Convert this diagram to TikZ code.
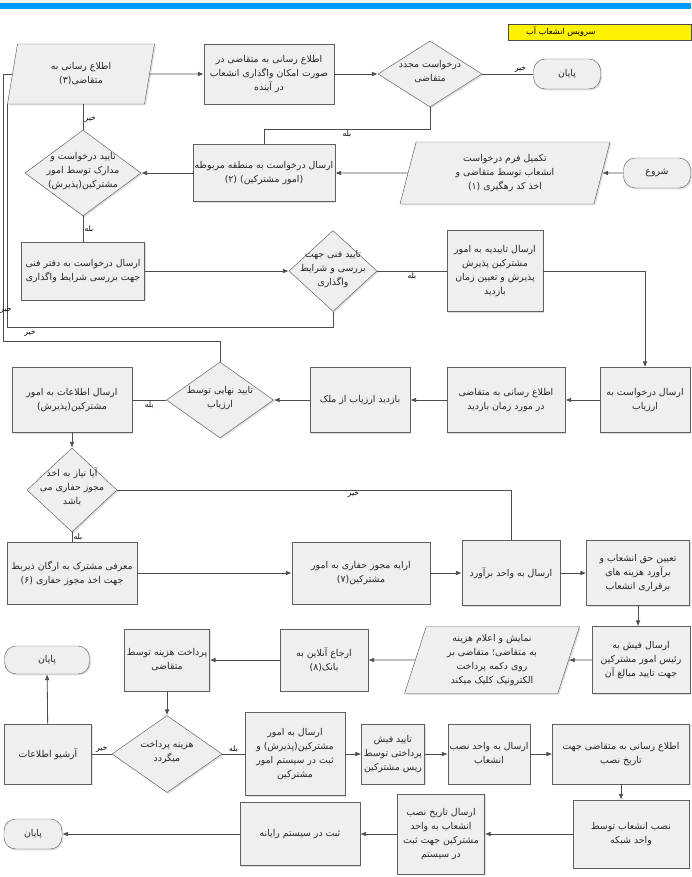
\documentclass[tikz,border=0pt]{standalone}
\usepackage{fontspec}
\newfontfamily\arabicfont[Script=Arabic]{DejaVu Sans}
\TeXXeTstate=1
\usetikzlibrary{shapes.geometric,arrows.meta,shadows}
\definecolor{barblue}{HTML}{0099FF}
\definecolor{boxfill}{HTML}{EFEFEF}
\newcommand\fa[1]{\beginR#1\endR}
\newcommand\dtxt[1]{\smash{\makebox[0pt]{\begin{tabular}{@{}c@{}}#1\end{tabular}}}}
\tikzset{
  wh/.style 2 args={minimum width=#1*0.03cm,minimum height=#2*0.03cm},
  base/.style={draw=gray!75!black,fill=boxfill,drop shadow={opacity=.25,shadow xshift=1.2pt,shadow yshift=-1.2pt},
    font=\arabicfont\fontsize{8}{12}\selectfont,text=black!85,align=center,inner sep=1pt},
  proc/.style={base,rectangle},
  io/.style={base,trapezium,trapezium left angle=68,trapezium right angle=112,trapezium stretches body},
  decide/.style={base,diamond,inner sep=0pt},
  term/.style={base,rectangle,rounded corners=10pt},
  line/.style={draw=gray!60!black,line width=.7pt},
  arr/.style={line,-{Latex[length=5pt,width=4pt]}},
  lbl/.style={font=\arabicfont\fontsize{6.5}{8}\selectfont,inner sep=1pt}
}
\begin{document}
\begin{tikzpicture}[x=0.03cm,y=-0.03cm]
\useasboundingbox (0,0) rectangle (691,877);
\fill[gray!6] (0,0) rectangle (691,3);
\fill[barblue] (0,3) rectangle (691,9);
\node[draw=black!70,fill=yellow,wh={183}{16},inner sep=0pt,font=\arabicfont\fontsize{7}{8}\selectfont] (title) at (599.5,32)
  {\makebox[5.4cm][l]{\hspace{0.5cm}\fa{سرویس انشعاب آب}}};
% row 1
\node[io,wh={147}{60}] (P3) at (81,74) {\fa{اطلاع رسانی به}\\\fa{متقاضی(۳)}};
\node[proc,wh={130}{60}] (R1) at (269,74) {\fa{اطلاع رسانی به متقاضی در}\\\fa{صورت امکان واگذاری انشعاب}\\\fa{در آینده}};
\node[decide,wh={104}{66}] (D1) at (430,74) {\dtxt{\fa{درخواست مجدد}\\\fa{متقاضی}}};
\node[term,wh={67}{30}] (E1) at (567,74) {\fa{پایان}};
% row 2
\node[term,wh={67}{30}] (S) at (657,173) {\fa{شروع}};
\node[io,wh={210}{62}] (P1) at (505,173) {\fa{تکمیل فرم درخواست}\\\fa{انشعاب توسط متقاضی و}\\\fa{اخذ کد رهگیری (۱)}};
\node[proc,wh={142}{57}] (R2) at (264,173) {\fa{ارسال درخواست به منطقه مربوطه}\\\fa{(امور مشترکین) (۲)}};
\node[decide,wh={116}{86}] (D2) at (83,173) {\dtxt{\fa{تایید درخواست و}\\\fa{مدارک توسط امور}\\\fa{مشترکین(پذیرش)}}};
% row 3
\node[proc,wh={123}{58}] (R3) at (83,271) {\fa{ارسال درخواست به دفتر فنی}\\\fa{جهت بررسی شرایط واگذاری}};
\node[decide,wh={88}{81}] (D3) at (333,271) {\dtxt{\fa{تایید فنی جهت}\\\fa{بررسی و شرایط}\\\fa{واگذاری}}};
\node[proc,wh={96}{81}] (R4) at (495,271) {\fa{ارسال تاییدیه به امور}\\\fa{مشترکین پذیرش}\\\fa{پذیرش و تعیین زمان}\\\fa{بازدید}};
% row 4
\node[proc,wh={90}{65}] (R5) at (645,400) {\fa{ارسال درخواست به}\\\fa{ارزیاب}};
\node[proc,wh={118}{65}] (R6) at (506,400) {\fa{اطلاع رسانی به متقاضی}\\\fa{در مورد زمان بازدید}};
\node[proc,wh={100}{65}] (R7) at (360,400) {\fa{بازدید ارزیاب از ملک}};
\node[decide,wh={107}{76}] (D4) at (220,400) {\dtxt{\fa{تایید نهایی توسط}\\\fa{ارزیاب}}};
\node[proc,wh={120}{65}] (R8) at (72,400) {\fa{ارسال اطلاعات به امور}\\\fa{مشترکین(پذیرش)}};
\node[decide,wh={90}{84}] (D5) at (72,490) {\dtxt{\fa{آیا نیاز به اخذ}\\\fa{مجوز حفاری می}\\\fa{باشد}}};
% row 5
\node[proc,wh={130}{62}] (R9) at (72,573) {\fa{معرفی مشترک به ارگان ذیربط}\\\fa{جهت اخذ مجوز حفاری (۶)}};
\node[proc,wh={138}{62}] (R10) at (361,573) {\fa{ارایه مجوز حفاری به امور}\\\fa{مشترکین(۷)}};
\node[proc,wh={98}{65}] (R11) at (511,573) {\fa{ارسال به واحد برآورد}};
\node[proc,wh={103}{65}] (R12) at (638,573) {\fa{تعیین حق انشعاب و}\\\fa{برآورد هزینه های}\\\fa{برقراری انشعاب}};
% row 6
\node[proc,wh={98}{67}] (R13) at (641,660) {\fa{ارسال فیش به}\\\fa{رئیس امور مشترکین}\\\fa{جهت تایید مبالغ آن}};
\node[io,wh={175}{67}] (P2) at (492,660) {\fa{نمایش و اعلام هزینه}\\\fa{به متقاضی؛ متقاضی بر}\\\fa{روی دکمه پرداخت}\\\fa{الکترونیک کلیک میکند}};
\node[proc,wh={88}{62}] (R14) at (324,660) {\fa{ارجاع آنلاین به}\\\fa{بانک(۸)}};
\node[proc,wh={85}{62}] (R15) at (167,660) {\fa{پرداخت هزینه توسط}\\\fa{متقاضی}};
\node[term,wh={85}{28}] (E2) at (47,660) {\fa{پایان}};
% row 7
\node[decide,wh={110}{77}] (D6) at (167,754) {\dtxt{\fa{هزینه پرداخت}\\\fa{میگردد}}};
\node[proc,wh={87}{60}] (R16) at (48,754) {\fa{آرشیو اطلاعات}};
\node[proc,wh={100}{83}] (R17) at (295,754) {\fa{ارسال به امور}\\\fa{مشترکین(پذیرش) و}\\\fa{ثبت در سیستم امور}\\\fa{مشترکین}};
\node[proc,wh={63}{60}] (R18) at (393,754) {\fa{تایید فیش}\\\fa{پرداختی توسط}\\\fa{ریس مشترکین}};
\node[proc,wh={82}{60}] (R19) at (489,754) {\fa{ارسال به واحد نصب}\\\fa{انشعاب}};
\node[proc,wh={137}{60}] (R20) at (621,754) {\fa{اطلاع رسانی به متقاضی جهت}\\\fa{تاریخ نصب}};
% row 8
\node[proc,wh={116}{68}] (R21) at (631,834) {\fa{نصب انشعاب توسط}\\\fa{واحد شبکه}};
\node[proc,wh={87}{80}] (R22) at (441,834) {\fa{ارسال تاریخ نصب}\\\fa{انشعاب به واحد}\\\fa{مشترکین جهت ثبت}\\\fa{در سیستم}};
\node[proc,wh={120}{63}] (R23) at (300,834) {\fa{ثبت در سیستم رایانه}};
\node[term,wh={58}{30}] (E3) at (33,834) {\fa{پایان}};

\coordinate (noA) at (7,327);
\coordinate (noB) at (3,341);
% connectors
\draw[arr] (P3) -- (R1);
\draw[arr] (R1) -- (D1);
\draw[line] (D1) -- node[lbl,above,pos=.75] (l1) {\fa{خیر}} (E1);
\draw[line] (D1.south) -- ++(0,22) -| node[lbl,below,pos=.25] (l2) {\fa{بله}} (R2.north);
\draw[arr] (S) -- (P1);
\draw[arr] (P1) -- (R2);
\draw[arr] (R2) -- (D2);
\draw[line] (D2.north) -- node[lbl,right,pos=.4] (l3) {\fa{خیر}} (D2.north |- P3.south);
\draw[line] (D2.south) -- node[lbl,right] (l4) {\fa{بله}} (R3.north);
\draw[arr] (R3) -- (D3);
\draw[line] (D3) -- node[lbl,below] (l5) {\fa{بله}} (R4);
\draw[arr] (R4.east) -| (R5.north);
\draw[line] (D3.south) |- (noA) -- (noA |- P3.bottom left corner);
\node[lbl] (l6) at (30,333) {\fa{خیر}};
\draw[line] (D4.north) |- (noB) |- (P3.west);
\node[lbl] (l7) at (6,310) {\fa{خیر}};
\draw[arr] (R5) -- (R6);
\draw[arr] (R6) -- (R7);
\draw[arr] (R7) -- (D4);
\draw[line] (D4) -- node[lbl,below] (l8) {\fa{بله}} (R8);
\draw[arr] (R8) -- (D5);
\draw[line] (D5.east) -| node[lbl,below,pos=.3] (l9) {\fa{خیر}} (R11.north);
\draw[line] (D5.south) -- node[lbl,right] (l10) {\fa{بله}} (R9.north);
\draw[arr] (R9) -- (R10);
\draw[arr] (R10) -- (R11);
\draw[arr] (R11) -- (R12);
\draw[arr] (R12.south) -- (R12.south |- R13.north);
\draw[arr] (R13) -- (P2);
\draw[arr] (P2) -- (R14);
\draw[arr] (R14) -- (R15);
\draw[arr] (R15) -- (D6);
\draw[line] (D6) -- node[lbl,above] (l11) {\fa{خیر}} (R16);
\draw[arr] (R16) -- (E2);
\draw[line] (D6) -- node[lbl,above] (l12) {\fa{بله}} (R17);
\draw[arr] (R17) -- (R18);
\draw[arr] (R18) -- (R19);
\draw[arr] (R19) -- (R20);
\draw[arr] (R20.south) -- (R20.south |- R21.north);
\draw[arr] (R21) -- (R22);
\draw[arr] (R22) -- (R23);
\draw[arr] (R23) -- (E3);
\end{tikzpicture}
\end{document}
